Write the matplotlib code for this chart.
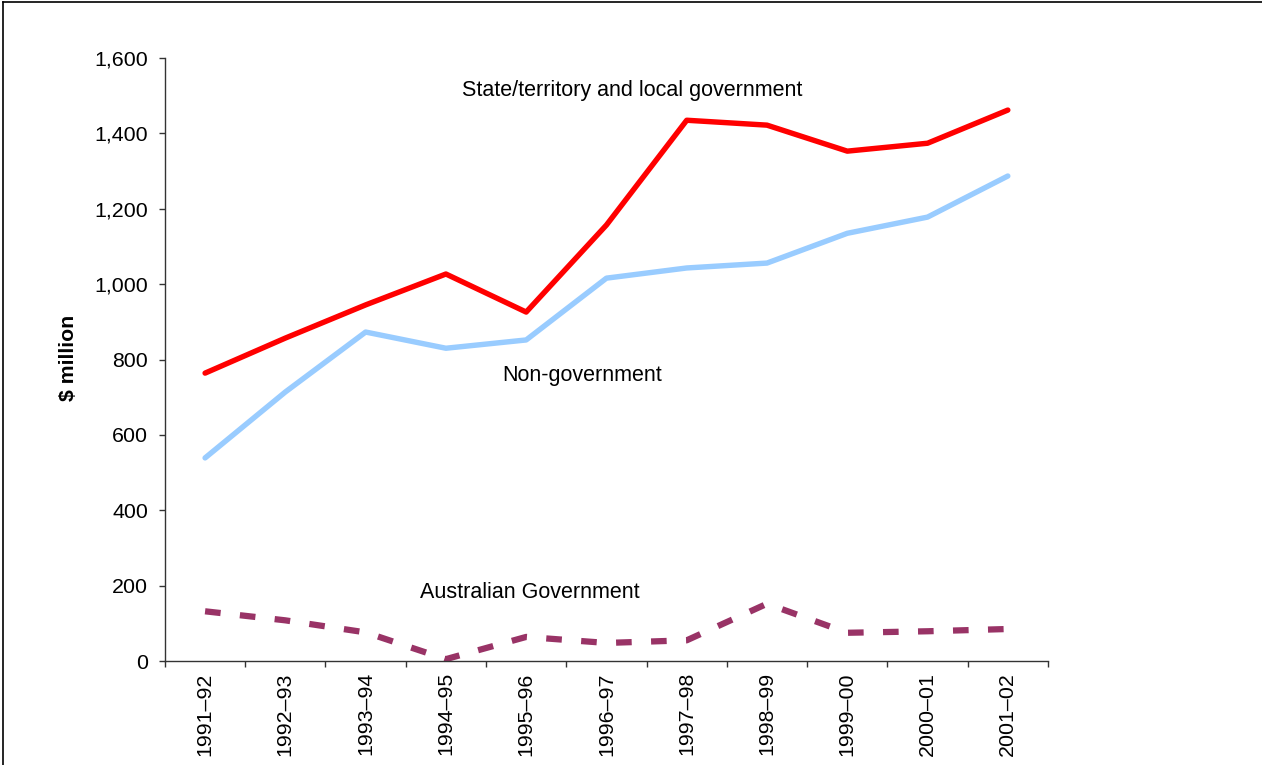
import numpy as np
import matplotlib.pyplot as plt
from matplotlib.lines import Line2D


plt.rcParams.update({
    'font.family': ['Liberation Sans', 'DejaVu Sans'],
    'font.size': 15.4,
})


# Expenditure by source of funds ($ million)
years = ['1991–92', '1992–93', '1993–94', '1994–95', '1995–96', '1996–97',
         '1997–98', '1998–99', '1999–00', '2000–01', '2001–02']
state_local = [764, 857, 945, 1027, 926, 1157, 1435, 1422, 1353, 1374, 1462]
non_government = [539, 714, 873, 830, 852, 1016, 1043, 1056, 1135, 1178, 1287]
australian_gov = [132, 108, 76, 5, 64, 48, 55, 152, 75, 79, 85]

x = np.arange(len(years))

fig = plt.figure(figsize=(12.62, 7.65), dpi=100)
ax = fig.add_axes([0.1307, 0.1359, 0.6997, 0.7882])

ax.plot(x, state_local, color='#FF0000', lw=3.9, solid_capstyle='round')
ax.plot(x, non_government, color='#99CCFF', lw=3.9, solid_capstyle='round')
ax.plot(x, australian_gov, color='#993366', lw=4.5,
        linestyle=(0, (2.5, 3.1)), dash_capstyle='butt')

# inline series labels
ax.text(3.2, 1515, 'State/territory and local government', ha='left', va='center', fontsize=15.5)
ax.text(3.7, 759, 'Non-government', ha='left', va='center', fontsize=15.5)
ax.text(2.68, 183, 'Australian Government', ha='left', va='center', fontsize=15.5)

ax.set_xlim(-0.5, len(years) - 0.5)
ax.set_ylim(0, 1600)
ax.set_yticks(np.arange(0, 1601, 200))
ax.set_yticklabels([f'{v:,}' for v in range(0, 1601, 200)])

# category labels centred, tick marks on the boundaries
ax.set_xticks(x)
ax.set_xticklabels(years, rotation=90, va='top', ha='center')
ax.set_xticks(np.arange(-0.5, len(years)), minor=True)
ax.tick_params(axis='x', which='major', length=0, pad=8)
ax.tick_params(axis='x', which='minor', length=4.5, width=1, color='#333333')
ax.tick_params(axis='y', length=4, width=1, color='#333333', pad=8)

for side in ('top', 'right'):
    ax.spines[side].set_visible(False)
for side in ('left', 'bottom'):
    ax.spines[side].set_color('#333333')
    ax.spines[side].set_linewidth(1)

fig.text(68 / 1262, 1 - 358 / 765, '$ million', rotation=90, ha='center', va='center',
         fontsize=15.3, fontweight='bold')

# frame around the chart area
fig.add_artist(Line2D([3 / 1262, 1], [1 - 2 / 765, 1 - 2 / 765], color='black', lw=1.2))
fig.add_artist(Line2D([3 / 1262, 3 / 1262], [0, 1 - 2 / 765], color='black', lw=1.2))

fig.savefig('out.png', dpi=100)
